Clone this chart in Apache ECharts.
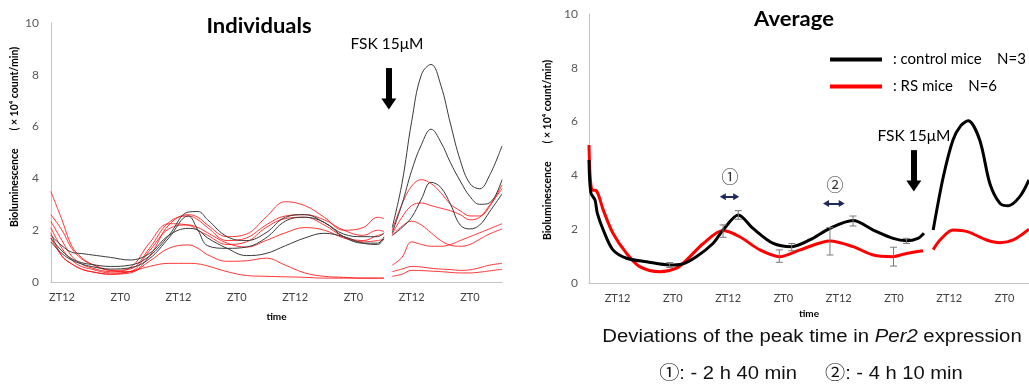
<!DOCTYPE html>
<html><head><meta charset="utf-8">
<script src="https://cdn.jsdelivr.net/npm/echarts@6/dist/echarts.min.js"></script>
<style>html,body{margin:0;padding:0;background:#fff}#c{width:1029px;height:385px}</style>
</head><body><div id="c"></div>
<script>
// ---- axis ticks ----
const tickHours = [12, 24, 36, 48, 60, 72, 84, 96];
const tickLabels = ['ZT12', 'ZT0', 'ZT12', 'ZT0', 'ZT12', 'ZT0', 'ZT12', 'ZT0'];

// ---- Individuals (hours; before / after FSK) ----
const indT1 = [9.7, 12, 14, 16, 18, 22, 26, 30, 34, 38, 40, 42, 46, 50, 54, 58, 62, 66, 70, 74, 77, 78.3];
const indT2 = [80, 82, 84, 86, 88, 90, 92, 94, 96, 98, 100, 102.6];
const ctrlA1 = [1.8, 1.4, 1.15, 1.1, 1.05, 0.95, 0.85, 1.1, 1.8, 2.07, 2.0, 1.7, 1.3, 1.02, 1.1, 1.4, 1.7, 1.88, 1.75, 1.5, 1.45, 1.68];
const ctrlA2 = [1.8, 2.1, 2.5, 3.2, 3.85, 3.65, 3.0, 2.2, 2.05, 2.2, 2.7, 3.4];
const ctrlB1 = [1.7, 1.2, 0.9, 0.75, 0.68, 0.6, 0.65, 1.0, 1.8, 2.7, 2.72, 2.4, 1.75, 1.6, 1.9, 2.5, 2.6, 2.3, 1.85, 1.75, 1.75, 1.9];
const ctrlB2 = [2.1, 3.8, 6.2, 8.0, 8.4, 7.6, 6.1, 4.7, 3.8, 3.6, 4.1, 5.25];
const ctrlC1 = [1.55, 1.1, 0.85, 0.7, 0.6, 0.5, 0.55, 0.9, 1.7, 2.55, 2.0, 1.4, 1.3, 1.35, 1.7, 2.35, 2.5, 2.3, 1.75, 1.5, 1.5, 1.75];
const ctrlC2 = [1.9, 3.0, 4.3, 5.3, 5.9, 5.4, 4.6, 3.9, 3.3, 3.0, 3.05, 3.95];
const rsA1 = [3.5, 2.4, 1.4, 0.95, 0.7, 0.45, 0.4, 1.0, 2.2, 2.6, 2.5, 2.2, 1.75, 1.85, 2.5, 3.1, 2.95, 2.5, 2.0, 2.1, 2.5, 2.45];
const rsA2 = [2.0, 3.0, 3.7, 3.95, 3.8, 3.45, 3.0, 2.75, 2.55, 2.55, 2.9, 3.75];
const rsB1 = [2.6, 2.0, 1.3, 0.9, 0.7, 0.45, 0.5, 1.3, 2.3, 2.55, 2.4, 2.1, 1.6, 1.7, 2.2, 2.55, 2.6, 2.4, 2.0, 1.8, 2.0, 1.95];
const rsB2 = [1.85, 2.5, 2.95, 3.05, 2.95, 2.85, 2.75, 2.6, 2.4, 2.5, 2.95, 3.6];
const rsC1 = [2.35, 1.6, 1.0, 0.7, 0.55, 0.4, 0.55, 1.5, 2.25, 2.2, 2.0, 1.8, 1.45, 1.55, 2.1, 2.45, 2.5, 2.2, 1.75, 1.6, 1.8, 1.85];
const rsC2 = [1.8, 2.15, 2.35, 2.2, 1.9, 1.6, 1.42, 1.38, 1.45, 1.65, 1.85, 2.05];
const rsD1 = [2.1, 1.3, 0.85, 0.6, 0.5, 0.35, 0.4, 1.2, 2.05, 2.2, 2.1, 1.9, 1.5, 1.35, 1.6, 1.9, 2.1, 2.0, 1.7, 1.55, 1.6, 1.65];
const rsD2 = [0.65, 0.95, 1.55, 1.45, 1.38, 1.38, 1.45, 1.6, 1.75, 1.9, 2.05, 2.25];
const rsE1 = [1.9, 1.0, 0.7, 0.5, 0.4, 0.3, 0.35, 0.8, 1.3, 1.43, 1.3, 1.05, 0.8, 0.82, 0.92, 0.65, 0.35, 0.22, 0.18, 0.15, 0.15, 0.15];
const rsE2 = [0.4, 0.5, 0.6, 0.58, 0.53, 0.5, 0.48, 0.45, 0.47, 0.55, 0.65, 0.72];
const rsF1 = [1.7, 1.0, 0.7, 0.5, 0.4, 0.3, 0.4, 0.6, 0.72, 0.72, 0.7, 0.62, 0.4, 0.25, 0.22, 0.2, 0.18, 0.15, 0.15, 0.15, 0.15, 0.15];
const rsF2 = [0.22, 0.3, 0.45, 0.44, 0.42, 0.4, 0.37, 0.35, 0.35, 0.38, 0.43, 0.49];

// ---- Average ----
const avgCtrlT1 = [5.8, 6.2, 7.1, 7.6, 8.9, 11.0, 13.95, 18.3, 23.3, 25.9, 29.1, 32.7, 34.9, 38.2, 41.4, 45.8, 49.8, 53.7, 58.1, 63.1, 67.5, 71.8, 74.7, 77.2, 78.5];
const avgCtrl1 = [4.57, 3.35, 3.09, 2.6, 1.97, 1.23, 0.92, 0.79, 0.67, 0.7, 0.98, 1.47, 1.97, 2.53, 2.03, 1.47, 1.35, 1.6, 2.03, 2.32, 1.97, 1.66, 1.57, 1.66, 1.85];
const avgCtrlT2 = [80.5, 82.7, 84.8, 86.5, 88.1, 90.6, 92.8, 95.0, 96.8, 99.3, 101.3];
const avgCtrl2 = [1.97, 3.95, 5.32, 5.85, 6.03, 5.32, 3.7, 2.96, 2.87, 3.21, 3.83];
const avgRsT1 = [5.8, 6.4, 7.4, 8.9, 11.0, 13.95, 16.8, 21.2, 24.8, 27.0, 30.6, 34.9, 38.5, 42.9, 47.2, 51.6, 58.1, 63.1, 67.5, 71.8, 74.7, 78.3];
const avgRs1 = [5.13, 3.46, 3.43, 2.71, 1.85, 1.1, 0.61, 0.42, 0.55, 0.86, 1.47, 1.95, 1.72, 1.23, 0.98, 1.23, 1.56, 1.35, 1.04, 0.98, 1.1, 1.2];
const avgRsT2 = [80.5, 82.0, 84.8, 87.9, 92.1, 95.0, 97.9, 101.3];
const avgRs2 = [1.24, 1.6, 1.97, 1.91, 1.6, 1.5, 1.6, 2.0];

// error bars
const errT = [23.3, 38.2, 49.8, 63.1, 74.7, 34.9, 47.1, 58.1, 71.9];
const errLow = [0.58, 2.37, 1.2, 2.12, 1.47, 1.7, 0.77, 1.04, 0.63];
const errHigh = [0.76, 2.69, 1.47, 2.49, 1.66, 2.16, 1.23, 2.06, 1.33];

// annotations (data units)
const fskLeft = { t: 79.3, from: 8.26, to: 6.87 };
const fskRight = { t: 76.3, from: 4.94, to: 3.61 };
const shift1 = { from: 34.85, to: 37.75, v: 3.21 };
const shift2 = { from: 57.25, to: 60.65, v: 2.96 };
const legendText = { 'control mice': ': control mice    N=3', 'RS mice': ': RS mice    N=6' };

const GAP_T = 79;
function seg(t1, v1, t2, v2) {
  return t1.map((t, i) => [t, v1[i]]).concat([[GAP_T, '-']], t2.map((t, i) => [t, v2[i]]));
}

const CAL = "Lato, 'Open Sans', sans-serif";
const ARIAL = "'Liberation Sans', Arial, 'Noto Sans CJK JP', sans-serif";

const indiv = [
  [ctrlA1, ctrlA2, 'k'], [ctrlB1, ctrlB2, 'k'], [ctrlC1, ctrlC2, 'k'],
  [rsA1, rsA2, 'r'], [rsB1, rsB2, 'r'], [rsC1, rsC2, 'r'],
  [rsD1, rsD2, 'r'], [rsE1, rsE2, 'r'], [rsF1, rsF2, 'r']
];

const series = indiv.map((d, i) => ({
  type: 'line', xAxisIndex: 0, yAxisIndex: 0, showSymbol: false, smooth: 0.4,
  data: seg(indT1, d[0], indT2, d[1]),
  lineStyle: { width: 1, color: d[2] === 'k' ? '#3a3a3a' : 'rgba(255,20,20,0.85)' },
  z: d[2] === 'k' ? 3 : 2,
  markLine: i === 0 ? {
    silent: true, symbol: ['none', 'triangle'], symbolSize: [15, 11], animation: false,
    label: { show: false }, lineStyle: { color: '#000', width: 6, type: 'solid' },
    data: [[{ coord: [fskLeft.t, fskLeft.from] }, { coord: [fskLeft.t, fskLeft.to] }]]
  } : undefined
}));

series.push({
  name: 'control mice', type: 'line', xAxisIndex: 1, yAxisIndex: 1, showSymbol: false, smooth: 0.3,
  data: seg(avgCtrlT1, avgCtrl1, avgCtrlT2, avgCtrl2),
  color: '#000', lineStyle: { width: 3, color: '#000' }, z: 4,
  markLine: {
    silent: true, symbol: ['none', 'triangle'], symbolSize: [15, 11], animation: false,
    label: { show: false }, lineStyle: { color: '#000', width: 6, type: 'solid' },
    data: [[{ coord: [fskRight.t, fskRight.from] }, { coord: [fskRight.t, fskRight.to] }]]
  }
});
series.push({
  name: 'RS mice', type: 'line', xAxisIndex: 1, yAxisIndex: 1, showSymbol: false, smooth: 0.3,
  data: seg(avgRsT1, avgRs1, avgRsT2, avgRs2),
  color: '#ff0000', lineStyle: { width: 3, color: '#ff0000' }, z: 3,
  markLine: {
    silent: true, symbol: ['triangle', 'triangle'], symbolSize: [7, 6], animation: false,
    label: { show: false }, lineStyle: { color: '#1f2a5a', width: 2, type: 'solid' },
    data: [
      [{ coord: [shift1.from, shift1.v] }, { coord: [shift1.to, shift1.v] }],
      [{ coord: [shift2.from, shift2.v] }, { coord: [shift2.to, shift2.v] }]
    ]
  }
});
series.push({
  type: 'custom', xAxisIndex: 1, yAxisIndex: 1, z: 5,
  data: errT.map((t, i) => [t, errLow[i], errHigh[i]]),
  encode: { x: 0, y: [1, 2] },
  renderItem: function (params, api) {
    const t = api.value(0);
    const lo = api.coord([t, api.value(1)]);
    const hi = api.coord([t, api.value(2)]);
    const w = 3.5, st = { stroke: '#7a7a7a', lineWidth: 1 };
    return { type: 'group', children: [
      { type: 'line', shape: { x1: lo[0], y1: lo[1], x2: hi[0], y2: hi[1] }, style: st },
      { type: 'line', shape: { x1: lo[0] - w, y1: lo[1], x2: lo[0] + w, y2: lo[1] }, style: st },
      { type: 'line', shape: { x1: hi[0] - w, y1: hi[1], x2: hi[0] + w, y2: hi[1] }, style: st }
    ] };
  }
});

function xAxisCfg(idx, min, max, gap) {
  return {
    type: 'value', gridIndex: idx, min: min, max: max,
    name: 'time', nameLocation: 'middle', nameGap: gap,
    nameTextStyle: { fontFamily: CAL, fontWeight: 'bold', fontSize: 10, color: '#000' },
    axisLine: { show: true, lineStyle: { color: '#c4c4c4', width: 1 } },
    axisTick: { show: false }, splitLine: { show: false },
    axisLabel: {
      customValues: tickHours, margin: 10, color: '#404040', fontFamily: CAL, fontSize: 11,
      formatter: v => tickLabels[tickHours.indexOf(v)] || ''
    }
  };
}
function yAxisCfg(idx, margin) {
  return {
    type: 'value', gridIndex: idx, min: 0, max: 10, interval: 2,
    axisLine: { show: true, lineStyle: { color: '#c4c4c4', width: 1 } },
    axisTick: { show: false }, splitLine: { show: false },
    axisLabel: { margin: margin, color: '#595959', fontFamily: CAL, fontSize: 12 }
  };
}

const yName = 'Bioluminescence       ( \u00d7 10\u2074 count/min)';

const option = {
  animation: false,
  backgroundColor: '#fff',
  grid: [
    { left: 51, top: 23, width: 451, height: 259 },
    { left: 589, top: 14, right: 0, height: 269 }
  ],
  xAxis: [xAxisCfg(0, 9.74, 102.6, 30), xAxisCfg(1, 5.8, 101.3, 26)],
  yAxis: [yAxisCfg(0, 12), yAxisCfg(1, 11)],
  legend: {
    data: ['control mice', 'RS mice'], orient: 'vertical', left: 825, top: 47,
    itemWidth: 52, itemHeight: 4, icon: 'rect', itemGap: 12,
    textStyle: { fontSize: 15, color: '#000', fontFamily: CAL, padding: [0, 0, 0, 6] },
    formatter: n => legendText[n]
  },
  graphic: [
    { type: 'text', x: 259, y: 27, scaleX: 1.1, style: { text: 'Individuals', fontSize: 20, fontWeight: 'bold', fontFamily: CAL, fill: '#000', align: 'center', verticalAlign: 'middle' } },
    { type: 'text', x: 794, y: 20, scaleX: 1.1, style: { text: 'Average', fontSize: 20, fontWeight: 'bold', fontFamily: CAL, fill: '#000', align: 'center', verticalAlign: 'middle' } },
    { type: 'text', x: 387, y: 44, style: { text: 'FSK 15\u03bcM', fontSize: 15.5, fontFamily: CAL, fill: '#000', align: 'center', verticalAlign: 'middle' } },
    { type: 'text', x: 914, y: 136, style: { text: 'FSK 15\u03bcM', fontSize: 15.5, fontFamily: CAL, fill: '#000', align: 'center', verticalAlign: 'middle' } },
    { type: 'text', x: 15, y: 137, rotation: Math.PI / 2, style: { text: yName, fontSize: 10.5, fontWeight: 'bold', fontFamily: CAL, fill: '#000', align: 'center', verticalAlign: 'middle' } },
    { type: 'text', x: 548, y: 150, rotation: Math.PI / 2, style: { text: yName, fontSize: 10.5, fontWeight: 'bold', fontFamily: CAL, fill: '#000', align: 'center', verticalAlign: 'middle' } },
    { type: 'text', x: 730, y: 177, style: { text: '\u2460', fontSize: 17, fontFamily: "'Noto Sans CJK JP', sans-serif", fill: '#333', align: 'center', verticalAlign: 'middle' } },
    { type: 'text', x: 835, y: 185, style: { text: '\u2461', fontSize: 17, fontFamily: "'Noto Sans CJK JP', sans-serif", fill: '#333', align: 'center', verticalAlign: 'middle' } },
    { type: 'text', x: 812, y: 337, scaleX: 1.13, style: { text: 'Deviations of the peak time in {i|Per2} expression', fontSize: 18, fontFamily: ARIAL, fill: '#111', align: 'center', verticalAlign: 'middle',
      rich: { i: { fontStyle: 'italic', fontSize: 18, fontFamily: ARIAL, fill: '#111' } } } },
    { type: 'text', x: 811, y: 374, scaleX: 1.12, style: { text: '\u2460: - 2 h 40 min     \u2461: - 4 h 10 min', fontSize: 18, fontFamily: ARIAL, fill: '#111', align: 'center', verticalAlign: 'middle' } }
  ],
  series: series
};

const chart = echarts.init(document.getElementById('c'), null, { renderer: 'canvas' });
chart.setOption(option);
</script>
</body></html>
